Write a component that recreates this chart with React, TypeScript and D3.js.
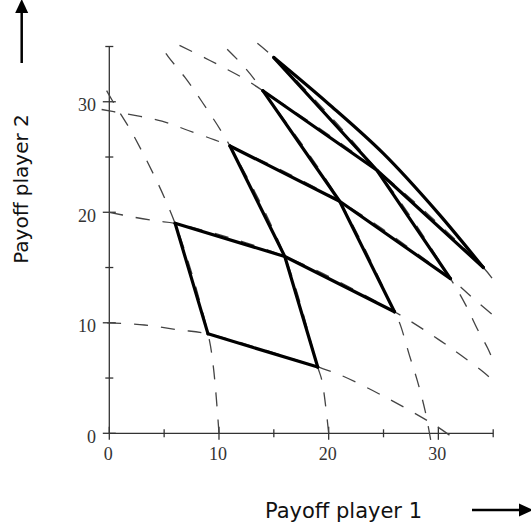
import React from 'react';
import * as d3 from 'd3';

type Pt = [number, number];

const WIDTH = 531;
const HEIGHT = 529;

// Curves of constant payoff shares (dashed grid); "h" curves run left to right,
// "v" curves run bottom to top.
const hCurve1: Pt[] = [[-0.2, 10], [3.2, 9.8], [6.4, 9.35], [9, 9], [19, 6], [21, 5.3], [25.3, 3.2], [29.9, 0.6], [31.6, -0.6]];
const hCurve2: Pt[] = [[0, 20], [2, 19.6], [4.4, 19.2], [6, 19], [16, 16], [26, 11], [30, 8.5], [32, 7.1], [34.1, 5.55], [35.2, 4.6]];
const hCurve3: Pt[] = [[-0.7, 29.3], [0.4, 29.1], [4.8, 28.25], [7.2, 27.4], [9.6, 26.55], [11, 26], [21, 21], [31.1, 14], [33.3, 12.1], [35.2, 10.5]];
const hCurve4: Pt[] = [[6.4, 35.1], [8.75, 33.95], [10.8, 32.9], [12.1, 32.2], [14, 31], [24.4, 23.8], [34.1, 15], [35.2, 13.6]];
const vCurve1: Pt[] = [[10, 0], [9.5, 5.9], [9, 9], [6, 19], [2.35, 26.7], [0.34, 30], [-0.7, 31.8]];
const vCurve2: Pt[] = [[20, 0], [19.4, 4.7], [19, 6], [16, 16], [11, 26], [8.45, 30], [6.9, 32.2], [5.35, 34.1], [4.6, 35.2]];
const vCurve3: Pt[] = [[29.3, -0.6], [28.8, 2], [28.1, 4.7], [27.35, 7.1], [26.5, 9.9], [26, 11], [21, 21], [14, 31], [12.4, 33.05], [10.4, 35.1]];
const vCurve4: Pt[] = [[13.5, 35.3], [15, 34], [24.4, 23.8], [31.1, 14], [32.5, 11.6], [33.6, 9.35], [34.5, 7.7], [35.2, 6.1]];

const gridCurves: Pt[][] = [hCurve1, hCurve2, hCurve3, hCurve4, vCurve1, vCurve2, vCurve3, vCurve4];

// Cell edges drawn solid: [curve, first vertex index, last vertex index]
const solidSpans: [Pt[], number, number][] = [
  [hCurve1, 3, 4],
  [hCurve2, 3, 5],
  [hCurve3, 5, 7],
  [hCurve4, 4, 6],
  [vCurve1, 2, 3],
  [vCurve2, 2, 4],
  [vCurve3, 5, 7],
  [vCurve4, 1, 3],
];

// Outer boundary of the last cell
const frontier: Pt[] = [[15, 34], [20, 29.8], [25, 25.3], [30, 19.9], [34.1, 15]];

const xTicks = [0, 5, 10, 15, 20, 25, 30, 35];
const yTicks = [0, 5, 10, 15, 20, 25, 30, 35];
const xTickLabels = [0, 10, 20, 30];
const yTickLabels = [0, 10, 20, 30];

const xTitle = 'Payoff player 1';
const yTitle = 'Payoff player 2';

export default function App() {
  const x = d3.scaleLinear().domain([0, 35]).range([109.3, 493.2]);
  const y = d3.scaleLinear().domain([0, 35]).range([433.3, 46.5]);

  const smooth = d3
    .line<Pt>()
    .x((d) => x(d[0]))
    .y((d) => y(d[1]))
    .curve(d3.curveCatmullRom.alpha(0.5));
  const straight = d3
    .line<Pt>()
    .x((d) => x(d[0]))
    .y((d) => y(d[1]));

  const axisColor = '#333';
  const serif = '"Liberation Serif", "Times New Roman", serif';
  const sans = '"DejaVu Sans", Verdana, sans-serif';

  return (
    <svg
      width={WIDTH}
      height={HEIGHT}
      style={{ position: 'absolute', left: 0, top: 0, background: '#fff' }}
    >
      <rect width={WIDTH} height={HEIGHT} fill="#fff" />

      {/* axes */}
      <line x1={x(0)} y1={y(0)} x2={x(35)} y2={y(0)} stroke={axisColor} strokeWidth={1.3} />
      <line x1={x(0)} y1={y(0)} x2={x(0)} y2={y(35)} stroke={axisColor} strokeWidth={1.3} />
      {xTicks.map((t) => {
        const len = t % 10 === 0 ? 6.5 : 4;
        return (
          <line key={'xt' + t} x1={x(t)} x2={x(t)} y1={y(0) - len} y2={y(0) + len} stroke={axisColor} strokeWidth={1.3} />
        );
      })}
      {yTicks.map((t) => {
        const len = t % 10 === 0 ? 6.5 : 4;
        return (
          <line key={'yt' + t} x1={x(0) - len} x2={x(0) + len} y1={y(t)} y2={y(t)} stroke={axisColor} strokeWidth={1.3} />
        );
      })}
      {xTickLabels.map((t) => (
        <text key={'xl' + t} x={x(t) - 1} y={460} textAnchor="middle" fontFamily={serif} fontSize={18} fill={axisColor}>
          {t}
        </text>
      ))}
      {yTickLabels.map((t) => (
        <text key={'yl' + t} x={96} y={y(t) + 9.5} textAnchor="end" fontFamily={serif} fontSize={18} fill={axisColor}>
          {t}
        </text>
      ))}

      {/* dashed grid curves */}
      <g fill="none" stroke="#444" strokeWidth={1.3} strokeDasharray="14 13">
        {gridCurves.map((c, i) => (
          <path key={'g' + i} d={smooth(c) ?? ''} />
        ))}
      </g>

      {/* solid cells */}
      <g fill="none" stroke="#000" strokeWidth={3.2} strokeLinejoin="round" strokeLinecap="round">
        {solidSpans.map(([c, a, b], i) => (
          <path key={'s' + i} d={straight(c.slice(a, b + 1)) ?? ''} />
        ))}
        <path d={smooth(frontier) ?? ''} />
      </g>

      {/* axis titles with arrows */}
      <text x={343.5} y={518} textAnchor="middle" fontFamily={sans} fontSize={21} fill="#111">
        {xTitle}
      </text>
      <line x1={472} y1={510} x2={521} y2={510} stroke="#000" strokeWidth={2.5} />
      <polygon points="519,503.5 533,510 519,516.5" fill="#000" />

      <text
        transform="translate(27.5,189) rotate(-90)"
        textAnchor="middle"
        fontFamily={sans}
        fontSize={20}
        fill="#111"
      >
        {yTitle}
      </text>
      <line x1={21.7} y1={63} x2={21.7} y2={11} stroke="#000" strokeWidth={2.5} />
      <polygon points="15.2,13 21.7,-1 28.2,13" fill="#000" />
    </svg>
  );
}
